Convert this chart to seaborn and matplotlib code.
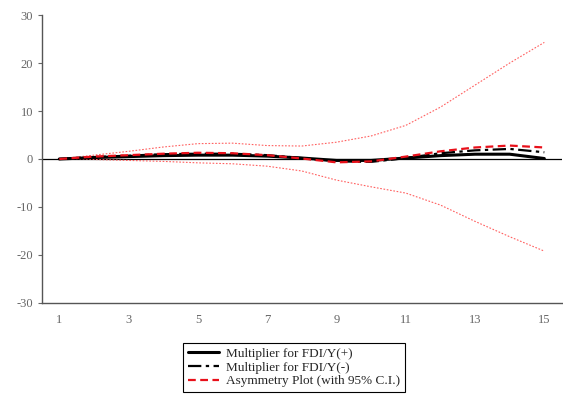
import numpy as np
import pandas as pd
import seaborn as sns
import matplotlib
matplotlib.use("Agg")
import matplotlib.pyplot as plt

horizon = list(range(1, 16))
mult_pos = [0.0, 0.3, 0.5, 0.7, 0.8, 0.8, 0.6, 0.2, -0.3, -0.3, 0.2, 0.7, 1.0, 1.0, 0.1]
mult_neg = [0.0, 0.4, 0.7, 1.0, 1.1, 1.1, 0.8, 0.2, -0.5, -0.6, 0.2, 1.2, 1.8, 2.1, 1.4]
asym = [0.0, 0.5, 0.8, 1.1, 1.3, 1.2, 0.8, 0.1, -0.7, -0.5, 0.5, 1.6, 2.4, 2.8, 2.4]
ci_upper = [0.0, 0.8, 1.6, 2.5, 3.2, 3.3, 2.8, 2.7, 3.5, 4.8, 7.0, 10.8, 15.4, 20.0, 24.3]
ci_lower = [0.0, -0.1, -0.3, -0.5, -0.8, -1.0, -1.5, -2.5, -4.4, -5.8, -7.1, -9.6, -13.0, -16.2, -19.2]
ytick_vals = [-30, -20, -10, 0, 10, 20, 30]
xtick_labels = [1, 3, 5, 7, 9, 11, 13, 15]

sns.set_style("white")
fig = plt.figure(figsize=(5.63, 3.96), dpi=100)
ax = fig.add_axes([0.0746, 0.235, 0.923, 0.727])

ax.axhline(0, color="black", lw=0.9, zorder=1)

df = pd.DataFrame({"h": horizon, "pos": mult_pos, "neg": mult_neg, "asym": asym,
                   "up": ci_upper, "lo": ci_lower})

sns.lineplot(data=df, x="h", y="up", ax=ax, color="#ff6060", lw=0.8,
             linestyle=(0, (1.5, 1.5)), zorder=2)
sns.lineplot(data=df, x="h", y="lo", ax=ax, color="#ff6060", lw=0.8,
             linestyle=(0, (1.5, 1.5)), zorder=2)
sns.lineplot(data=df, x="h", y="pos", ax=ax, color="black", lw=2.2, zorder=3,
             label="Multiplier for FDI/Y(+)")
sns.lineplot(data=df, x="h", y="neg", ax=ax, color="black", lw=1.6,
             linestyle=(0, (6, 2, 1.5, 2)), zorder=3, label="Multiplier for FDI/Y(-)")
sns.lineplot(data=df, x="h", y="asym", ax=ax, color="#e8101a", lw=1.6,
             linestyle=(0, (3.5, 2)), zorder=4, label="Asymmetry Plot (with 95% C.I.)")

ax.set_xlim(0.5, 15.5)
ax.set_ylim(-30, 30)
ax.set_xlabel("")
ax.set_ylabel("")
ax.set_yticks(ytick_vals)
ax.set_yticklabels([str(v) for v in ytick_vals])
ax.set_xticks(xtick_labels)
ax.set_xticklabels([str(v) for v in xtick_labels])
ax.set_xticks(np.arange(0.5, 15.6, 1.0), minor=True)
ax.tick_params(axis="x", which="major", length=0, pad=8, labelsize=9, colors="#666666")
ax.tick_params(axis="x", which="minor", length=3, width=0.8, color="#666666", direction="out")
ax.tick_params(axis="y", which="major", length=3, width=0.8, colors="#666666", labelsize=9,
               direction="out", left=True)
for lab in ax.get_xticklabels() + ax.get_yticklabels():
    lab.set_family("Liberation Serif")
for s in ["top", "right"]:
    ax.spines[s].set_visible(False)
for s in ["left", "bottom"]:
    ax.spines[s].set_color("#555555")
    ax.spines[s].set_linewidth(1.0)

handles, labels = ax.get_legend_handles_labels()
ax.get_legend().remove()
leg = fig.legend(handles, labels, loc="upper left", bbox_to_anchor=(0.325, 0.134),
                 frameon=True, fancybox=False, edgecolor="black", framealpha=1,
                 prop={"family": "Liberation Serif", "size": 9.5},
                 handlelength=2.4, handletextpad=0.5, borderpad=0.35, labelspacing=0.12,
                 borderaxespad=0)
leg.get_frame().set_linewidth(0.8)

fig.savefig("out.png", dpi=100)
